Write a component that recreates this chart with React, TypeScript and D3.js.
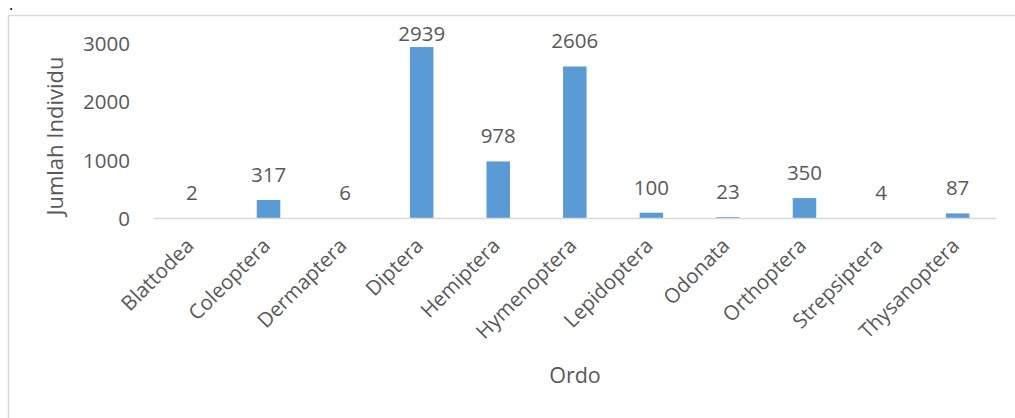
import React from "react";
import * as d3 from "d3";

const categories = ["Blattodea", "Coleoptera", "Dermaptera", "Diptera", "Hemiptera", "Hymenoptera", "Lepidoptera", "Odonata", "Orthoptera", "Strepsiptera", "Thysanoptera"];
const values = [2, 317, 6, 2939, 978, 2606, 100, 23, 350, 4, 87];
const yTicks = [0, 1000, 2000, 3000];

const W = 1015, H = 418;
const plot = { left: 153.7, right: 995.9, top: 43.5, bottom: 218.5 };
const FONT = "'Open Sans', sans-serif";
const TXT = "#595959";

export default function App() {
  const x = d3.scaleBand<string>().domain(categories).range([plot.left, plot.right]).padding(0);
  const y = d3.scaleLinear().domain([0, 3000]).range([plot.bottom, plot.top]);
  const bw = x.bandwidth() * 0.307;
  return (
    <svg width={W} height={H} style={{ position: "absolute", left: 0, top: 0, background: "#fff" }}>
      <text x={9} y={10} fontSize={16} fill="#000" fontFamily={FONT}>.</text>
      <path d={`M8.5,${H} V15.5 H${W}`} fill="none" stroke="#d9d9d9" strokeWidth={1.5} />
      {values.map((v, i) => {
        const cx = x(categories[i])! + x.bandwidth() / 2;
        return (
          <rect key={i} x={cx - bw / 2} y={y(v)} width={bw} height={y(0) - y(v)} fill="#5b9bd5" />
        );
      })}
      <line x1={plot.left} x2={plot.right} y1={y(0)} y2={y(0)} stroke="#d9d9d9" strokeWidth={1.5} />
      {yTicks.map((t) => (
        <text key={t} x={130} y={y(t)} dy="0.36em" textAnchor="end" fontSize={20.5} fill={TXT} fontFamily={FONT}>{t}</text>
      ))}
      {values.map((v, i) => {
        const cx = x(categories[i])! + x.bandwidth() / 2;
        const ly = Math.max(y(v) - 18, plot.top - 2.5);
        return (
          <text key={i} x={cx} y={ly} textAnchor="middle" fontSize={20.5} fill={TXT} fontFamily={FONT}>{v}</text>
        );
      })}
      {categories.map((c, i) => {
        const cx = x(c)! + x.bandwidth() / 2 + 3;
        const cy = 247;
        return (
          <text key={c} x={cx} y={cy} transform={`rotate(-45 ${cx} ${cy})`} textAnchor="end" fontSize={20.5} fill={TXT} fontFamily={FONT}>{c}</text>
        );
      })}
      <text x={575} y={383} textAnchor="middle" fontSize={21.5} fill={TXT} fontFamily={FONT}>Ordo</text>
      <text transform={`translate(63,136) rotate(-90)`} textAnchor="middle" fontSize={22} fill={TXT} fontFamily={FONT}>Jumlah Individu</text>
    </svg>
  );
}
